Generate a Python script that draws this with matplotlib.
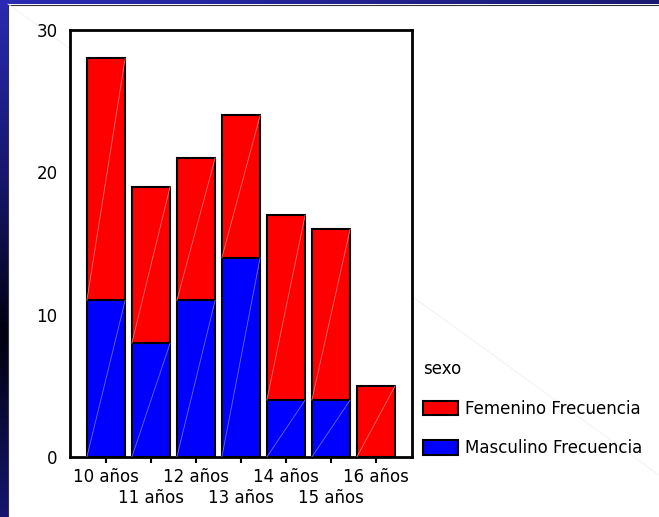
import numpy as np
import matplotlib
matplotlib.use('Agg')
import matplotlib.pyplot as plt
from matplotlib.colors import LinearSegmentedColormap
from matplotlib.patches import Rectangle, Patch

plt.rcParams['font.family'] = ['DejaVu Sans']

# datos: frecuencias por edad y sexo
edades = ['10 años', '11 años', '12 años', '13 años', '14 años', '15 años', '16 años']
masculino = [11, 8, 11, 14, 4, 4, 0]
femenino = [17, 11, 10, 10, 13, 12, 5]
yticks = [0, 10, 20, 30]

fig = plt.figure(figsize=(6.59, 5.17), dpi=100)

# fondo de diapositiva (borde azul degradado)
bg = fig.add_axes([0, 0, 1, 1])
bg.set_xlim(0, 659)
bg.set_ylim(517, 0)
bg.axis('off')
left_cmap = LinearSegmentedColormap.from_list(
    'l', [(0, '#2a2ab4'), (0.35, '#16166a'), (0.65, '#00000f'), (1, '#16166e')])
top_cmap = LinearSegmentedColormap.from_list('t', ['#2a2ab4', '#1a1a72'])
bg.imshow(np.linspace(0, 1, 256).reshape(-1, 1), cmap=left_cmap,
          extent=(0, 8, 517, 0), aspect='auto')
bg.imshow(np.linspace(0, 1, 256).reshape(1, -1), cmap=top_cmap,
          extent=(0, 659, 4, 0), aspect='auto')
bg.add_patch(Rectangle((8, 4), 651, 513, fc='white', ec='none'))
bg.plot([8, 659], [4.5, 4.5], color='#333333', lw=0.8)
bg.plot([8, 8], [4, 517], color='#333333', lw=0.8)
bg.plot([8, 659], [4, 475], color='#f0f0f0', lw=0.6)

ax = fig.add_axes([70 / 659, 60 / 517, 342 / 659, 427 / 517])
x = np.arange(len(edades))
w = 0.85
ax.bar(x, masculino, w, color='#0000ff', edgecolor='black', linewidth=1.5, zorder=2)
ax.bar(x, femenino, w, bottom=masculino, color='#ff0000', edgecolor='black',
       linewidth=1.5, zorder=2)

# diagonales claras dentro de cada segmento
for i in range(len(edades)):
    segs = [(0, masculino[i], '#6a6aff'), (masculino[i], femenino[i], '#ff7070')]
    for b, h, c in segs:
        if h > 0:
            ax.plot([x[i] - w / 2, x[i] + w / 2], [b, b + h], color=c, lw=0.6, zorder=3)

ax.set_xlim(-0.8, 6.8)
ax.set_ylim(0, 30)
ax.set_yticks(yticks)
ax.tick_params(axis='y', length=0, pad=9, labelsize=12)
ax.set_xticks(x[::2])
ax.set_xticklabels(edades[::2])
ax.set_xticks(x[1::2], minor=True)
ax.set_xticklabels(edades[1::2], minor=True)
ax.tick_params(axis='x', which='both', length=4, width=1.5, labelsize=12)
ax.tick_params(axis='x', which='major', pad=4)
ax.tick_params(axis='x', which='minor', pad=19)
for s in ax.spines.values():
    s.set_linewidth(2)

handles = [Patch(fc='#ff0000', ec='black', lw=1.5, label='Femenino Frecuencia'),
           Patch(fc='#0000ff', ec='black', lw=1.5, label='Masculino Frecuencia')]
ax.legend(handles=handles, title='sexo', loc='upper left',
          bbox_to_anchor=(423 / 659, 1 - 360 / 517), bbox_transform=fig.transFigure,
          frameon=False, fontsize=12, title_fontsize=12, handlelength=2.1,
          handleheight=0.95, handletextpad=0.45, labelspacing=1.3, borderpad=0,
          borderaxespad=0, alignment='left')

fig.savefig('out.png', dpi=100)
